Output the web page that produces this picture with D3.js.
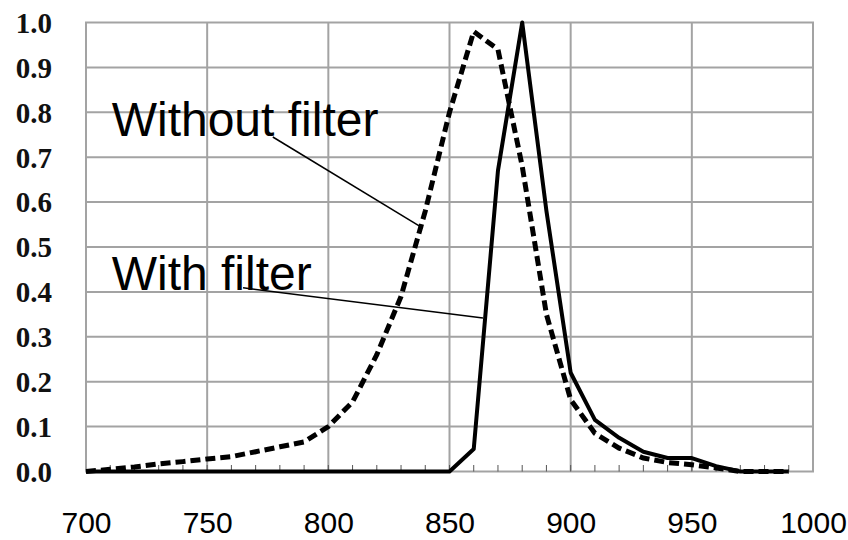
<!DOCTYPE html>
<html>
<head>
<meta charset="utf-8">
<script src="https://cdn.jsdelivr.net/npm/d3@7"></script>
<style>
body { margin: 0; background: #fff; }
</style>
</head>
<body>
<div id="chart"></div>
<script>
var W = 848,
	H = 540;

// wavelength (nm), every 10 nm
var wavelengths = [700, 710, 720, 730, 740, 750, 760, 770, 780, 790,
	800, 810, 820, 830, 840, 850, 860, 870, 880, 890,
	900, 910, 920, 930, 940, 950, 960, 970, 980, 990];

var withoutFilter = [0.0, 0.005, 0.01, 0.017, 0.022, 0.028, 0.033, 0.044, 0.055, 0.066,
	0.10, 0.155, 0.26, 0.39, 0.58, 0.80, 0.98, 0.94, 0.68, 0.35,
	0.16, 0.085, 0.052, 0.03, 0.02, 0.015, 0.008, 0.0, 0.0, 0.0];

var withFilter = [0, 0, 0, 0, 0, 0, 0, 0, 0, 0,
	0, 0, 0, 0, 0, 0, 0.05, 0.67, 1.0, 0.58,
	0.22, 0.115, 0.075, 0.044, 0.03, 0.03, 0.012, 0.0, 0.0, 0.0];

var xTicks = [700, 750, 800, 850, 900, 950, 1000];
var yTicks = [0.0, 0.1, 0.2, 0.3, 0.4, 0.5, 0.6, 0.7, 0.8, 0.9, 1.0];
var minorTicks = d3.range(710, 1000, 10);

// labels + leader lines, in data units
var notes = [
	{ text: 'Without filter', tx: 710.6, ty: 0.748, x1: 777.1, y1: 0.745, x2: 839.0, y2: 0.542 },
	{ text: 'With filter', tx: 710.6, ty: 0.404, x1: 764.8, y1: 0.409, x2: 863.8, y2: 0.342 }
];

var svg, page, x, y;

init();

function init() {
	createSVG('#chart');
	makeScales();
	drawGrid();
	drawAxes();
	drawLines();
	drawNotes();
}

function createSVG(locationID) {
	svg = d3.select(locationID)
	.append('svg')
	.attr('width', W)
	.attr('height', H)
	.attr('viewBox', '0 0 ' + W + ' ' + H);

	page = svg.append('g').attr('id', 'page');
}

function makeScales() {
	x = d3.scaleLinear().domain([700, 1000]).range([86, 813]);
	y = d3.scaleLinear().domain([0, 1]).range([471.5, 22.5]);
}

function drawGrid() {
	page.selectAll('.vgrid')
	.data(xTicks)
	.enter().append('line')
	.attr('class', 'vgrid')
	.attr('x1', function(d) { return x(d); })
	.attr('x2', function(d) { return x(d); })
	.attr('y1', y(0))
	.attr('y2', y(1))
	.attr('stroke', '#a3a3a3')
	.attr('stroke-width', 2);

	page.selectAll('.hgrid')
	.data(yTicks)
	.enter().append('line')
	.attr('class', 'hgrid')
	.attr('x1', x(700) - 1)
	.attr('x2', x(1000) + 1)
	.attr('y1', function(d) { return y(d); })
	.attr('y2', function(d) { return y(d); })
	.attr('stroke', '#a3a3a3')
	.attr('stroke-width', 2);

	page.selectAll('.minor')
	.data(minorTicks)
	.enter().append('line')
	.attr('class', 'minor')
	.attr('x1', function(d) { return x(d); })
	.attr('x2', function(d) { return x(d); })
	.attr('y1', y(0))
	.attr('y2', y(0) - 6.5)
	.attr('stroke', '#555')
	.attr('stroke-width', 1);
}

function drawAxes() {
	var yAxis = d3.axisLeft(y)
	.tickValues(yTicks)
	.tickFormat(d3.format('.1f'))
	.tickSize(0)
	.tickPadding(0);

	var gy = page.append('g')
	.attr('transform', 'translate(52,0)')
	.call(yAxis);
	gy.select('.domain').remove();
	gy.selectAll('text')
	.attr('font-family', '"Liberation Serif", "Times New Roman", serif')
	.attr('font-weight', 'bold')
	.attr('font-size', '29px')
	.attr('fill', '#111')
	.attr('dy', '0.34em');

	var xAxis = d3.axisBottom(x)
	.tickValues(xTicks)
	.tickFormat(d3.format('d'))
	.tickSize(0)
	.tickPadding(0);

	var gx = page.append('g')
	.attr('transform', 'translate(0,533)')
	.call(xAxis);
	gx.select('.domain').remove();
	gx.selectAll('text')
	.attr('font-family', '"Liberation Sans", Arial, sans-serif')
	.attr('font-size', '30px')
	.attr('fill', '#000')
	.attr('dy', 0);
}

function drawLines() {
	var lineA = d3.line()
	.x(function(d, i) { return x(wavelengths[i]); })
	.y(function(d) { return y(d); });

	page.append('path')
	.datum(withoutFilter)
	.attr('d', lineA)
	.attr('fill', 'none')
	.attr('stroke', '#000')
	.attr('stroke-width', 5)
	.attr('stroke-dasharray', '10,5');

	page.append('path')
	.datum(withFilter)
	.attr('d', lineA)
	.attr('fill', 'none')
	.attr('stroke', '#000')
	.attr('stroke-width', 4)
	.attr('stroke-linejoin', 'round');
}

function drawNotes() {
	page.selectAll('.leader')
	.data(notes)
	.enter().append('line')
	.attr('class', 'leader')
	.attr('x1', function(d) { return x(d.x1); })
	.attr('y1', function(d) { return y(d.y1); })
	.attr('x2', function(d) { return x(d.x2); })
	.attr('y2', function(d) { return y(d.y2); })
	.attr('stroke', '#000')
	.attr('stroke-width', 1.5);

	page.selectAll('.note')
	.data(notes)
	.enter().append('text')
	.attr('class', 'note')
	.attr('x', function(d) { return x(d.tx); })
	.attr('y', function(d) { return y(d.ty); })
	.attr('font-family', '"Liberation Sans", Arial, sans-serif')
	.attr('font-size', '48px')
	.attr('fill', '#000')
	.text(function(d) { return d.text; });
}
</script>
</body>
</html>
